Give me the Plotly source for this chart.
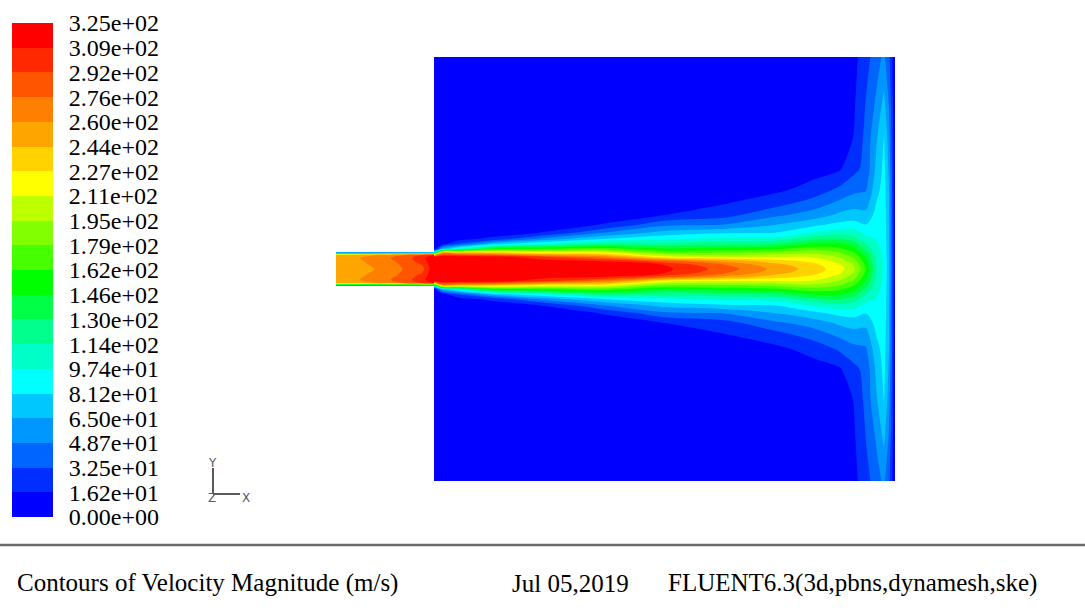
import plotly.graph_objects as go

# ---------------- colour legend (20 bands, bottom -> top) ----------------
TICK_LABELS = ["0.00e+00", "1.62e+01", "3.25e+01", "4.87e+01", "6.50e+01",
               "8.12e+01", "9.74e+01", "1.14e+02", "1.30e+02", "1.46e+02",
               "1.62e+02", "1.79e+02", "1.95e+02", "2.11e+02", "2.27e+02",
               "2.44e+02", "2.60e+02", "2.76e+02", "2.92e+02", "3.09e+02",
               "3.25e+02"]
BAND_COLORS = ["#0000ff", "#002eff", "#0064ff", "#0096ff", "#00c8ff",
               "#00ffff", "#00ffc8", "#00ff8c", "#00ff46", "#00ff00",
               "#46ff00", "#82ff00", "#beff00", "#ffff00", "#ffd200",
               "#ffa500", "#ff8000", "#ff5500", "#ff2800", "#ff0000"]
VMAX = 325.0

# ---------------- nozzle (x in mm, y = distance from axis) ----------------
NOZ_X = [-98, -80, -62, -45, -28, -12, 0]
NOZ_Y_HALF = [0, 6, 11, 14, 15.5, 17]
NOZ_U_COLS = [
    [250, 251, 253, 245, 140, 0],
    [255, 256, 257, 250, 145, 0],
    [259, 262, 266, 258, 150, 0],
    [266, 270, 275, 266, 155, 0],
    [279, 283, 287, 278, 160, 0],
    [286, 296, 302, 292, 165, 0],
    [322, 323, 324, 312, 170, 0],
]

# ---------------- chamber ----------------
BOX_X = [0, 8, 25, 60, 110, 170, 230, 290, 340, 380, 405, 420, 432, 442, 450, 455, 461]
BOX_Y_HALF = [0, 4, 8, 12, 16, 20, 25, 30, 36, 44, 54, 66, 80, 100, 130, 170, 212]
BOX_U_COLS = [
    [322, 322, 322, 320, 120, 3, 0, 0, 0, 0, 0, 0, 0, 0, 0, 0, 0],
    [325, 325, 324, 322, 265, 70, 10, 2, 0, 0, 0, 0, 0, 0, 0, 0, 0],
    [325, 325, 323, 321, 255, 105, 35, 10, 3, 1, 0, 0, 0, 0, 0, 0, 0],
    [325, 325, 322, 318, 245, 160, 75, 22, 6, 2, 1, 0, 0, 0, 0, 0, 0],
    [323, 321, 316, 296, 225, 165, 100, 55, 18, 5, 2, 1, 0, 0, 0, 0, 0],
    [320, 317, 308, 270, 220, 172, 125, 82, 50, 18, 6, 2, 1, 0, 0, 0, 0],
    [313, 309, 283, 220, 180, 150, 120, 95, 72, 45, 16, 6, 2, 1, 0, 0, 0],
    [285, 278, 254, 212, 180, 155, 125, 102, 80, 50, 26, 15, 6, 2, 1, 0, 0],
    [256, 250, 235, 211, 185, 160, 130, 105, 82, 65, 45, 25, 12, 5, 2, 1, 0],
    [236, 232, 222, 210, 192, 172, 150, 125, 100, 78, 56, 40, 22, 10, 4, 2, 1],
    [218, 214, 205, 194, 181, 167, 150, 130, 108, 86, 68, 52, 35, 14, 8, 4, 2],
    [198, 194, 186, 176, 165, 152, 138, 122, 106, 88, 72, 58, 44, 28, 17, 14, 12],
    [162, 158, 152, 145, 136, 126, 115, 104, 93, 82, 70, 58, 47, 38, 38, 33, 25],
    [115, 114, 112, 110, 107, 104, 100, 97, 94, 90, 86, 81, 75, 68, 62, 50, 42],
    [94, 94, 94, 93, 93, 92, 92, 91, 91, 90, 90, 89, 88, 86, 82, 68, 52],
    [70, 70, 70, 70, 69, 69, 69, 68, 68, 68, 67, 66, 65, 62, 56, 46, 36],
    [0, 0, 0, 0, 0, 0, 0, 0, 0, 0, 0, 0, 0, 0, 0, 0, 0],
]


def mirror(y_half, cols):
    """Build a full (symmetric about the jet axis) grid from half profiles."""
    n = len(y_half)
    idx = list(range(n - 1, 0, -1)) + list(range(n))
    y = [-y_half[i] for i in range(n - 1, 0, -1)] + list(y_half)
    z = [[col[i] for col in cols] for i in idx]
    return y, z


nb = len(BAND_COLORS)
step = VMAX / nb
levels = [step * i for i in range(nb + 1)]

# colour scale for the legend bar (linear 0..VMAX)
cs_bar = []
for k, c in enumerate(BAND_COLORS):
    cs_bar += [[k / nb, c], [(k + 1) / nb, c]]

# colour scale for filled contours (one colour per band)
m = nb - 1
cs_fill = []
for k, c in enumerate(BAND_COLORS):
    lo = 0.0 if k == 0 else (k - 0.25) / m
    hi = 1.0 if k == m else (k + 0.75) / m
    cs_fill += [[lo, c], [hi, c]]

contour_style = dict(
    colorscale=cs_fill, autocontour=False,
    contours=dict(start=step, end=VMAX - step, size=step,
                  coloring="fill", showlines=False),
    line=dict(width=0, smoothing=1),
    showscale=False, hoverinfo="skip",
)

ny, nz = mirror(NOZ_Y_HALF, NOZ_U_COLS)
by, bz = mirror(BOX_Y_HALF, BOX_U_COLS)

fig = go.Figure()
fig.add_trace(go.Contour(x=NOZ_X, y=ny, z=nz, **contour_style))
fig.add_trace(go.Contour(x=BOX_X, y=by, z=bz, **contour_style))

# legend bar as its own heatmap
mids = [(levels[i] + levels[i + 1]) / 2 for i in range(nb)]
fig.add_trace(go.Heatmap(
    x=[0, 1], y=levels, z=[[v] for v in mids],
    colorscale=cs_bar, zmin=0, zmax=VMAX, showscale=False,
    hoverinfo="skip", xaxis="x2", yaxis="y2"))

W, H = 1085, 615


def px_x(p):
    return p / W


def px_y(p):
    return 1 - p / H


fig.update_layout(
    template="none",
    width=W, height=H,
    margin=dict(l=0, r=0, t=0, b=0, pad=0, autoexpand=False),
    paper_bgcolor="white", plot_bgcolor="white",
    showlegend=False,
    xaxis=dict(domain=[px_x(336), px_x(895)], range=[NOZ_X[0], BOX_X[-1]],
               visible=False, fixedrange=True, automargin=False),
    yaxis=dict(domain=[px_y(481), px_y(57)],
               range=[-BOX_Y_HALF[-1], BOX_Y_HALF[-1]],
               visible=False, fixedrange=True, automargin=False),
    xaxis2=dict(domain=[px_x(12), px_x(53)], range=[0, 1], visible=False,
                anchor="y2", fixedrange=True, automargin=False),
    yaxis2=dict(domain=[px_y(517), px_y(23)], range=[0, VMAX], anchor="x2",
                side="right", tickvals=levels, ticktext=TICK_LABELS,
                ticks="outside", ticklen=10, tickcolor="rgba(0,0,0,0)",
                showgrid=False, zeroline=False, showline=False,
                automargin=False,
                tickfont=dict(family="Liberation Serif", size=24, color="black"),
                fixedrange=True),
)

# coordinate triad
gray = "#5a5a5a"
fig.add_shape(type="line", xref="paper", yref="paper",
              x0=px_x(213), x1=px_x(213), y0=px_y(468), y1=px_y(494),
              line=dict(color=gray, width=2))
fig.add_shape(type="line", xref="paper", yref="paper",
              x0=px_x(213), x1=px_x(240), y0=px_y(494), y1=px_y(494),
              line=dict(color=gray, width=2))
for t, xx, yy in [("Y", 212, 463), ("Z", 212, 498), ("X", 246, 498)]:
    fig.add_annotation(text=t, xref="paper", yref="paper", x=px_x(xx), y=px_y(yy),
                       showarrow=False, xanchor="center", yanchor="middle",
                       font=dict(family="DejaVu Sans", size=12, color=gray))

# footer
fig.add_shape(type="line", xref="paper", yref="paper",
              x0=0, x1=1, y0=px_y(545), y1=px_y(545),
              line=dict(color="#6a6a6a", width=2.5))
for t, xx in [("Contours of Velocity Magnitude (m/s)", 15),
              ("Jul 05,2019", 510),
              ("FLUENT6.3(3d,pbns,dynamesh,ske)", 666)]:
    fig.add_annotation(text=t, xref="paper", yref="paper", x=px_x(xx), y=px_y(583),
                       showarrow=False, xanchor="left", yanchor="middle",
                       font=dict(family="Liberation Serif", size=25, color="black"))

fig.write_html("out.html", config={"displayModeBar": False},
               post_script="document.body.style.margin='0px';"
                           "document.body.style.overflow='hidden';")
